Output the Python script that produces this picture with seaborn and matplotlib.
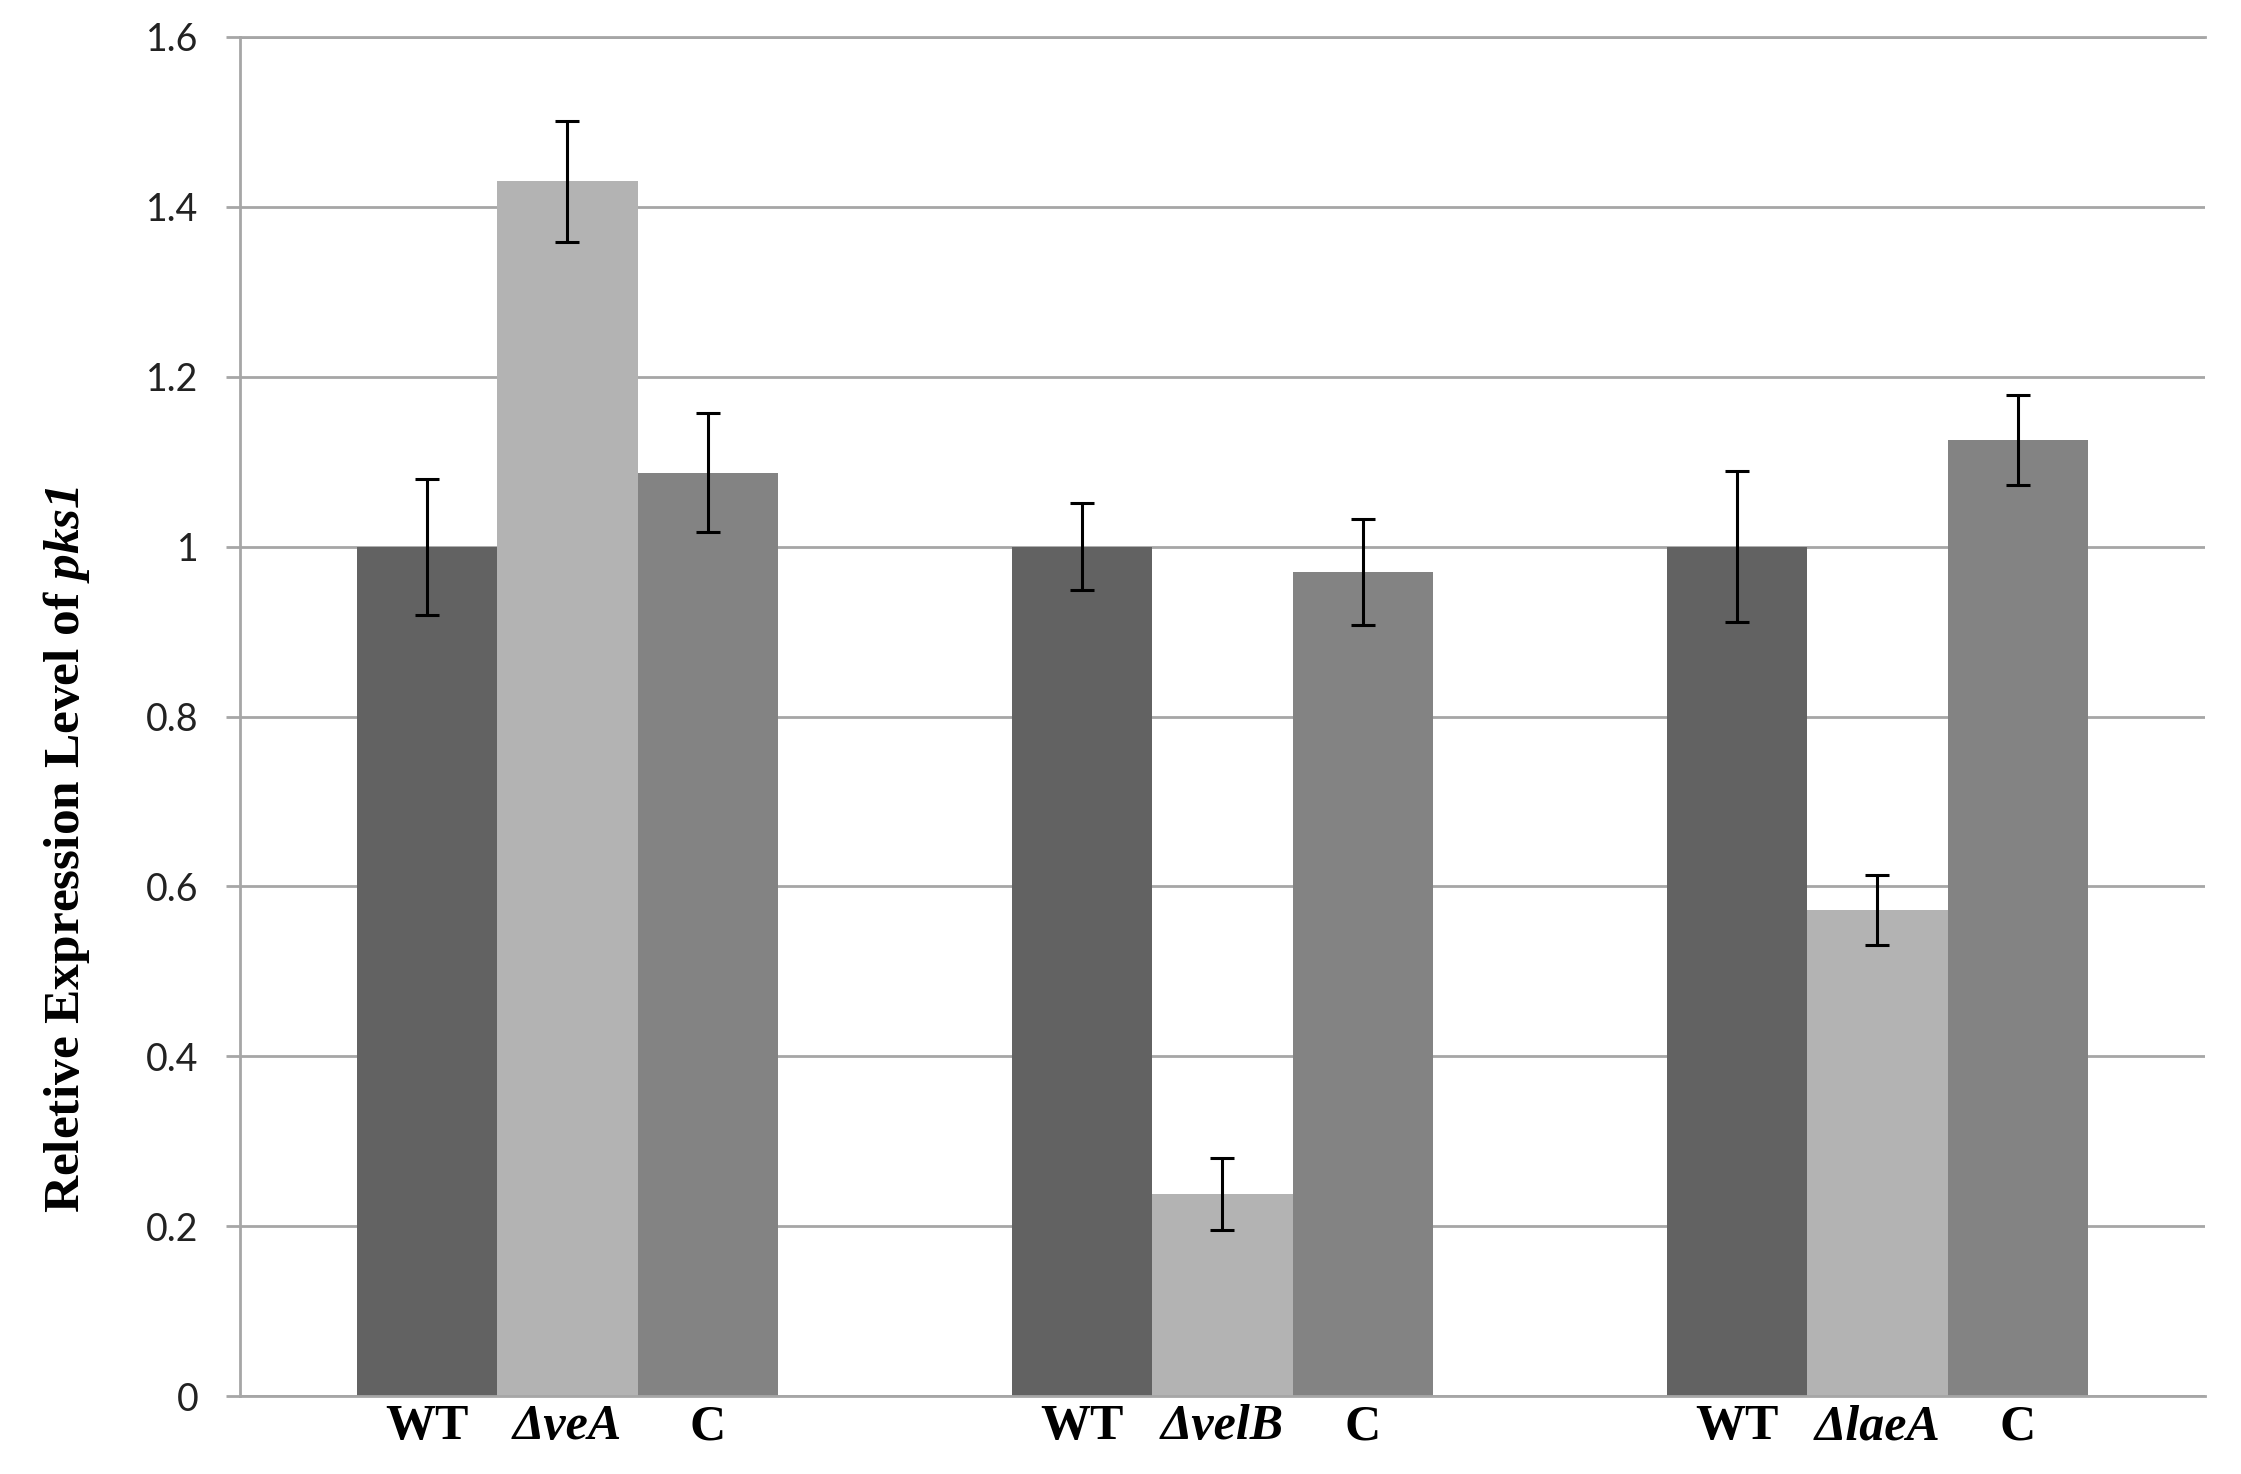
# -*- coding: utf-8 -*-
# Relative expression of pks1 in WT, deletion mutants and complemented strains

import matplotlib
matplotlib.use("Agg")
import matplotlib.pyplot as plt
import seaborn as sns
import pandas as pd
from matplotlib.ticker import FuncFormatter

# Data
groups = ['veA', 'velB', 'laeA']
strains = ['WT', 'mutant', 'C']
bar_labels = ['WT', 'ΔveA', 'C', 'WT', 'ΔvelB', 'C', 'WT', 'ΔlaeA', 'C']

wt_values = [1.0, 1.0, 1.0]
mutant_values = [1.430, 0.238, 0.572]
comp_values = [1.087, 0.970, 1.126]

wt_err = [0.080, 0.051, 0.089]
mutant_err = [0.071, 0.042, 0.041]
comp_err = [0.070, 0.062, 0.053]

yticks = [0, 0.2, 0.4, 0.6, 0.8, 1.0, 1.2, 1.4, 1.6]

bar_colors = ['#626262', '#b3b3b3', '#838383']
grid_color = '#a6a6a6'

df = pd.DataFrame({
    'group': groups * 3,
    'strain': ['WT'] * 3 + ['mutant'] * 3 + ['C'] * 3,
    'value': wt_values + mutant_values + comp_values,
})

sns.set_style('white')
plt.rcParams['mathtext.fontset'] = 'custom'
plt.rcParams['mathtext.rm'] = 'Liberation Serif:italic:bold'
plt.rcParams['mathtext.it'] = 'Liberation Serif:italic:bold'

fig = plt.figure(figsize=(22.41, 14.74), dpi=100)
ax = fig.add_axes([0.1071, 0.0529, 0.8768, 0.9220])

sns.barplot(data=df, x='group', y='value', hue='strain', order=groups,
            hue_order=strains, palette=bar_colors, saturation=1,
            width=0.644, gap=0, errorbar=None, legend=False,
            linewidth=0, ax=ax)

# error bars at the centres of the drawn bars
centers = []
for container, errs in zip(ax.containers, [wt_err, mutant_err, comp_err]):
    for bar in container:
        cx = bar.get_x() + bar.get_width() / 2
        idx = int(round(cx))
        ax.errorbar(cx, bar.get_height(), yerr=errs[idx], fmt='none',
                    ecolor='black', elinewidth=2.2, capsize=8.5, capthick=2.2,
                    zorder=5)
        centers.append(cx)
centers = sorted(centers)

ax.set_ylim(0, 1.6)
ax.set_xlim(-0.5, 2.5)
ax.set_yticks(yticks)
ax.yaxis.set_major_formatter(FuncFormatter(lambda v, p: '%g' % v))

ax.set_axisbelow(True)
ax.yaxis.grid(True, color=grid_color, linewidth=2)
ax.xaxis.grid(False)

for side in ['left', 'top', 'bottom']:
    ax.spines[side].set_visible(True)
    ax.spines[side].set_color(grid_color)
    ax.spines[side].set_linewidth(2)
ax.spines['right'].set_visible(False)

ax.tick_params(axis='y', length=10, width=2, color=grid_color, pad=20,
               labelsize=27, labelcolor='#222222', left=True)
for lab in ax.get_yticklabels():
    lab.set_fontfamily('Lato')

ax.set_xticks(centers)
ax.set_xticklabels(bar_labels)
ax.tick_params(axis='x', length=0, pad=6)
for lab in ax.get_xticklabels():
    lab.set_fontfamily('Liberation Serif')
    lab.set_fontweight('bold')
    lab.set_fontsize(36)
    lab.set_color('black')
    if lab.get_text().startswith('Δ'):
        lab.set_fontstyle('italic')

ax.set_xlabel('')
ax.set_ylabel('Reletive Expression Level of $pks1$',
              fontfamily='Liberation Serif', fontweight='bold', fontsize=37,
              color='black')
ax.yaxis.set_label_coords(-0.0753, 0.402)

fig.savefig('out.png', dpi=100)
